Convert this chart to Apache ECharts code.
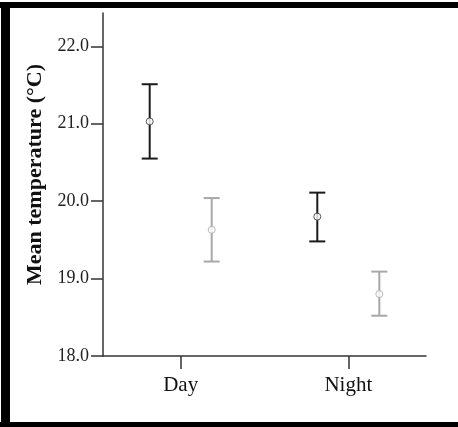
<!DOCTYPE html>
<html>
<head>
<meta charset="utf-8">
<script src="https://cdn.jsdelivr.net/npm/echarts@6/dist/echarts.min.js"></script>
<style>
  html, body { margin: 0; padding: 0; background: #fff; }
  #main { width: 458px; height: 427px; }
</style>
</head>
<body>
<div id="main"></div>
<script>
var myChart = echarts.init(document.getElementById('main'));

// categories on the x axis
var categories = ['Day', 'Night'];
var yTicks = [18, 19, 20, 21, 22];

// black group (mean, lower, upper)
var blackMean = [21.03, 19.80];
var blackLow = [20.55, 19.48];
var blackHigh = [21.51, 20.11];

// gray group
var grayMean = [19.63, 18.80];
var grayLow = [19.22, 18.52];
var grayHigh = [20.04, 19.09];

var shift = 0.185;

function barData(mean, low, high, off) {
    return mean.map(function (m, i) {
        return [i + off, low[i], high[i]];
    });
}
function meanData(mean, off) {
    return mean.map(function (m, i) {
        return [i + off, m];
    });
}

function renderBar(color) {
    return function (params, api) {
        var top = api.coord([api.value(0), api.value(2)]);
        var bot = api.coord([api.value(0), api.value(1)]);
        var half = 8;
        var style = { stroke: color, lineWidth: 2 };
        return {
            type: 'group',
            children: [
                { type: 'line', shape: { x1: top[0], y1: top[1], x2: bot[0], y2: bot[1] }, style: style },
                { type: 'line', shape: { x1: top[0] - half, y1: top[1], x2: top[0] + half, y2: top[1] }, style: style },
                { type: 'line', shape: { x1: bot[0] - half, y1: bot[1], x2: bot[0] + half, y2: bot[1] }, style: style }
            ]
        };
    };
}

var option = {
    animation: false,
    backgroundColor: '#fff',

    grid: {
        left: 103,
        right: 32,
        top: 13,
        bottom: 71
    },

    xAxis: {
        type: 'value',
        min: -0.4636,
        max: 1.4636,
        splitLine: { show: false },
        axisLine: { onZero: false, lineStyle: { color: '#333', width: 1.5 } },
        axisTick: {
            customValues: [0, 1],
            length: 13,
            lineStyle: { color: '#333', width: 1.5 }
        },
        axisLabel: {
            customValues: [0, 1],
            margin: 19,
            fontFamily: 'Liberation Serif',
            fontSize: 21,
            color: '#111',
            formatter: function (v) {
                return categories[Math.round(v)];
            }
        }
    },

    yAxis: {
        type: 'value',
        min: 18,
        max: 22.43,
        name: 'Mean temperature (°C)',
        nameLocation: 'middle',
        nameGap: 50,
        nameTextStyle: {
            fontFamily: 'Liberation Serif',
            fontWeight: 'bold',
            fontSize: 22,
            color: '#111',
            padding: [0, 0, 0, 20]
        },
        splitLine: { show: false },
        axisLine: { show: true, onZero: false, lineStyle: { color: '#333', width: 1.5 } },
        axisTick: {
            show: true,
            customValues: yTicks,
            length: 12,
            lineStyle: { color: '#333', width: 1.5 }
        },
        axisLabel: {
            customValues: yTicks,
            margin: 14,
            fontFamily: 'Liberation Serif',
            fontSize: 18,
            color: '#222',
            formatter: function (v) {
                return v.toFixed(1);
            }
        }
    },

    graphic: [
        { type: 'rect', shape: { x: 0, y: 2, width: 458, height: 6 }, style: { fill: '#000' }, z: 100 },
        { type: 'rect', shape: { x: 1, y: 2, width: 9, height: 425 }, style: { fill: '#000' }, z: 100 },
        { type: 'rect', shape: { x: 0, y: 422, width: 458, height: 5 }, style: { fill: '#000' }, z: 100 }
    ],

    series: [
        {
            type: 'custom',
            renderItem: renderBar('#1a1a1a'),
            encode: { x: 0, y: [1, 2] },
            data: barData(blackMean, blackLow, blackHigh, -shift)
        },
        {
            type: 'custom',
            renderItem: renderBar('#a8a8a8'),
            encode: { x: 0, y: [1, 2] },
            data: barData(grayMean, grayLow, grayHigh, shift)
        },
        {
            type: 'scatter',
            symbol: 'circle',
            symbolSize: 7,
            itemStyle: { color: '#fff', borderColor: '#333', borderWidth: 1 },
            z: 5,
            data: meanData(blackMean, -shift)
        },
        {
            type: 'scatter',
            symbol: 'circle',
            symbolSize: 7,
            itemStyle: { color: '#fff', borderColor: '#a8a8a8', borderWidth: 1 },
            z: 5,
            data: meanData(grayMean, shift)
        }
    ]
};

myChart.setOption(option);
</script>
</body>
</html>
